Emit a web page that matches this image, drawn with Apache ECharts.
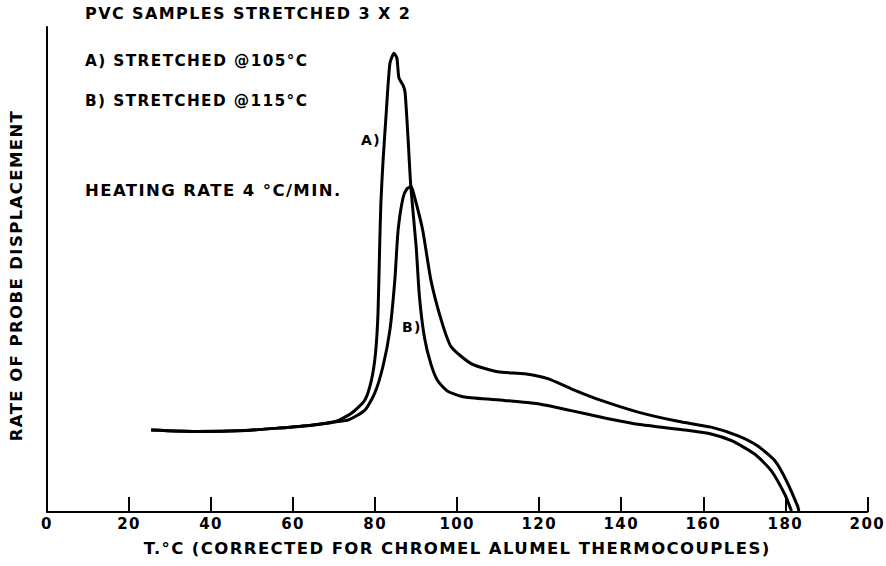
<!DOCTYPE html>
<html>
<head>
<meta charset="utf-8">
<script src="https://cdn.jsdelivr.net/npm/echarts@6/dist/echarts.min.js"></script>
<style>
html,body{margin:0;padding:0;background:#fff;}
#chart{width:886px;height:566px;}
#chart text{letter-spacing:1.4px;}
</style>
</head>
<body>
<div id="chart"></div>
<script>
// Temperature (°C) and relative rate of probe displacement (0-100, arbitrary units)
const tempA = [25.4,36.3,48.4,56.5,64.5,70.2,74.3,77.5,79.1,80.1,80.7,81.1,81.4,81.9,82.7,83.6,84.6,85.3,85.8,86.8,87.3,88.0,88.7,90.0,90.8,92.0,93.6,95.3,97.7,101.8,111.5,119.7,127.8,136.0,144.1,155.5,161.9,166.9,172.6,176.6,179.9,181.5];
const rateA = [16.9,16.6,16.8,17.3,17.9,18.6,20.4,23.1,27.2,32.8,41.0,54.7,63.7,72.0,82.3,92.5,94.6,93.6,89.5,88.0,86.5,77.4,67.1,54.7,44.4,36.1,30.5,27.0,24.9,23.7,23.0,22.3,20.9,19.4,18.1,16.9,16.1,14.7,11.9,8.5,3.6,0.2];
const tempB = [25.4,36.3,48.4,56.5,64.5,70.2,73.5,77.5,79.9,81.9,83.6,84.8,85.6,86.8,87.8,88.8,89.6,91.6,93.6,96.1,98.5,103.4,109.9,116.4,122.1,127.8,135.1,144.1,153.8,161.9,168.5,173.3,177.5,180.3,183.0,183.3];
const rateB = [16.9,16.6,16.8,17.3,17.9,18.6,19.0,21.0,24.5,30.0,37.5,47.8,58.1,64.8,66.7,67.1,65.0,58.1,47.8,39.6,34.1,30.6,28.9,28.5,27.5,25.4,23.0,20.6,18.7,17.5,15.7,13.6,10.5,6.4,1.2,0.2];
const xTicks = [0,20,40,60,80,100,120,140,160,180,200];

const titleText = 'PVC SAMPLES STRETCHED 3 X 2';
const noteLines = ['A) STRETCHED @105°C', 'B) STRETCHED @115°C', 'HEATING RATE 4 °C/MIN.'];
const curveLabels = ['A)', 'B)'];
const xName = 'T.°C (CORRECTED FOR CHROMEL ALUMEL THERMOCOUPLES)';
const yName = 'RATE OF PROBE DISPLACEMENT';

const FONT = '"DejaVu Sans", sans-serif';
const zip = (xs, ys) => xs.map((x, i) => [x, ys[i]]);

const chart = echarts.init(document.getElementById('chart'), null, {renderer: 'svg'});
const txt = (text, left, top, size) => ({
  type: 'text', left: left, top: top,
  style: {text: text, font: 'bold ' + size + 'px ' + FONT, fill: '#000'}
});

chart.setOption({
  animation: false,
  backgroundColor: '#fff',
  grid: {left: 47, right: 14, top: 27, bottom: 54},
  xAxis: {
    type: 'value', min: 0, max: 200, interval: 20,
    name: xName, nameLocation: 'middle', nameGap: 28,
    nameTextStyle: {color: '#000', fontFamily: FONT, fontWeight: 'bold', fontSize: 16.5},
    axisLine: {show: true, lineStyle: {color: '#000', width: 2}},
    axisTick: {show: true, inside: true, length: 15, lineStyle: {color: '#000', width: 2}},
    axisLabel: {color: '#000', fontFamily: FONT, fontWeight: 'bold', fontSize: 15, margin: 4,
      formatter: v => xTicks.includes(v) ? String(v) : ''},
    splitLine: {show: false}
  },
  yAxis: {
    type: 'value', min: 0, max: 100,
    name: yName, nameLocation: 'middle', nameGap: 22,
    nameTextStyle: {color: '#000', fontFamily: FONT, fontWeight: 'bold', fontSize: 16.5, padding: [0, 12, 0, 0]},
    axisLine: {show: true, lineStyle: {color: '#000', width: 2}},
    axisTick: {show: false}, axisLabel: {show: false}, splitLine: {show: false}
  },
  series: [
    {type: 'line', data: zip(tempA, rateA), showSymbol: false, smooth: 0.2,
     lineStyle: {color: '#000', width: 3}},
    {type: 'line', data: zip(tempB, rateB), showSymbol: false, smooth: 0.2,
     lineStyle: {color: '#000', width: 3}}
  ],
  graphic: [
    txt(titleText, 85, 5, 16),
    txt(noteLines[0], 85, 53, 15.3),
    txt(noteLines[1], 85, 93, 15.3),
    txt(noteLines[2], 85, 182, 16.5),
    txt(curveLabels[0], 361, 133, 14),
    txt(curveLabels[1], 402, 320, 14)
  ]
});
</script>
</body>
</html>
